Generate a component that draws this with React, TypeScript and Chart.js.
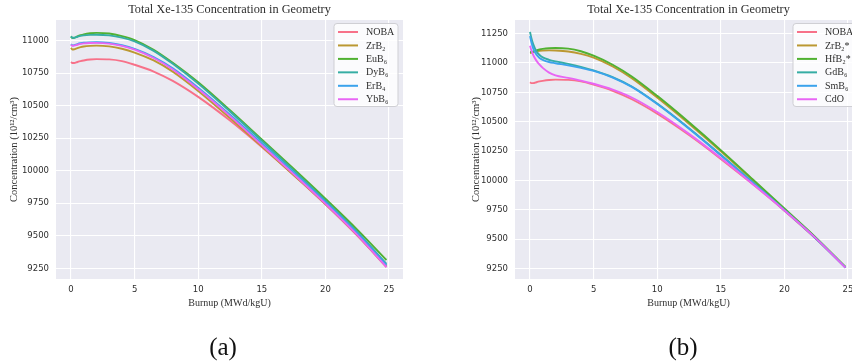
import React, { useEffect, useRef } from 'react';
import { Chart, registerables } from 'chart.js';
Chart.register(...registerables);

// ---------- data ----------
const burnup = [0, 0.1, 0.25, 0.5, 0.75, 1, 1.5, 2, 3, 4, 5, 6.5, 8, 10, 12.5, 15, 17.5, 20, 22.5, 24.8];
const xTicks = [0, 5, 10, 15, 20, 25];
const yTicksA = [9250, 9500, 9750, 10000, 10250, 10500, 10750, 11000];
const yTicksB = [9250, 9500, 9750, 10000, 10250, 10500, 10750, 11000, 11250];

const noba = [10836, 10828, 10828, 10836, 10843, 10848, 10855, 10858, 10856, 10843, 10815, 10763, 10691, 10568, 10386, 10183, 9968, 9742, 9501, 9260];

// panel (a)
const zrb2 = [10944, 10932, 10934, 10943, 10950, 10955, 10960, 10962, 10956, 10938, 10909, 10848, 10762, 10614, 10405, 10188, 9968, 9745, 9508, 9263];
const eub6 = [11033, 11020, 11022, 11033, 11042, 11049, 11057, 11060, 11055, 11035, 11005, 10930, 10830, 10680, 10465, 10240, 10015, 9785, 9548, 9314];
const dyb6 = [11033, 11022, 11022, 11030, 11037, 11041, 11045, 11046, 11041, 11024, 10995, 10922, 10822, 10670, 10455, 10230, 10003, 9770, 9530, 9284];
const erb4 = [10974, 10964, 10966, 10974, 10980, 10984, 10987, 10988, 10982, 10965, 10937, 10874, 10787, 10638, 10430, 10210, 9988, 9760, 9520, 9274];
const ybb6 = [10969, 10960, 10962, 10969, 10975, 10979, 10982, 10983, 10977, 10960, 10931, 10867, 10779, 10628, 10420, 10197, 9974, 9747, 9507, 9260];

// panel (b)
const zrb2s = [11085, 11086, 11092, 11099, 11103, 11105, 11107, 11106, 11098, 11078, 11045, 10970, 10870, 10705, 10482, 10248, 10003, 9755, 9506, 9260];
const hfb2s = [11094, 11092, 11098, 11108, 11115, 11120, 11126, 11128, 11122, 11100, 11062, 10985, 10885, 10720, 10495, 10258, 10010, 9760, 9510, 9262];
const gdb6 = [11265, 11215, 11160, 11100, 11068, 11048, 11027, 11013, 10992, 10967, 10937, 10880, 10800, 10655, 10445, 10218, 9985, 9748, 9503, 9258];
const smb6 = [11230, 11180, 11125, 11072, 11043, 11027, 11008, 10998, 10980, 10958, 10932, 10876, 10796, 10650, 10440, 10214, 9982, 9746, 9502, 9258];
const cdo = [11146, 11110, 11068, 11020, 10985, 10958, 10918, 10894, 10873, 10850, 10823, 10773, 10706, 10582, 10396, 10190, 9970, 9744, 9504, 9257];

const labelsA = ['NOBA', 'ZrB₂', 'EuB₆', 'DyB₆', 'ErB₄', 'YbB₆'];
const labelsB = ['NOBA', 'ZrB₂*', 'HfB₂*', 'GdB₆', 'SmB₆', 'CdO'];
const seriesA = [noba, zrb2, eub6, dyb6, erb4, ybb6];
const seriesB = [noba, zrb2s, hfb2s, gdb6, smb6, cdo];
const colors = ['#f77189', '#bb9832', '#50b131', '#36ada4', '#3ba3ec', '#e866f4'];

const TITLE = 'Total Xe-135 Concentration in Geometry';
const XLABEL = 'Burnup (MWd/kgU)';
const YLABEL = 'Concentration (10¹²/cm³)';

const SERIF = "'Liberation Serif', 'DejaVu Serif', serif";
const SANS = "'DejaVu Sans', sans-serif";
const TEXT = '#2e2e2e';

function decorPlugin(labels: string[]) {
  return {
    id: 'decor',
    beforeDraw(chart: any) {
      const { ctx, chartArea: a } = chart;
      ctx.save();
      ctx.fillStyle = '#eaeaf2';
      ctx.fillRect(a.left, a.top, a.right - a.left, a.bottom - a.top);
      ctx.restore();
    },
    afterDraw(chart: any) {
      const { ctx, chartArea: a } = chart;
      ctx.save();
      ctx.font = `12.3px ${SERIF}`;
      ctx.fillStyle = TEXT;
      ctx.textAlign = 'center';
      ctx.textBaseline = 'middle';
      ctx.fillText(TITLE, (a.left + a.right) / 2, 9.5);

      const bw = 64, bh = 83;
      const bx = a.right - 5 - bw, by = a.top + 3.5;
      ctx.beginPath();
      const r = 3;
      ctx.moveTo(bx + r, by);
      ctx.lineTo(bx + bw - r, by);
      ctx.arcTo(bx + bw, by, bx + bw, by + r, r);
      ctx.lineTo(bx + bw, by + bh - r);
      ctx.arcTo(bx + bw, by + bh, bx + bw - r, by + bh, r);
      ctx.lineTo(bx + r, by + bh);
      ctx.arcTo(bx, by + bh, bx, by + bh - r, r);
      ctx.lineTo(bx, by + r);
      ctx.arcTo(bx, by, bx + r, by, r);
      ctx.closePath();
      ctx.fillStyle = 'rgba(255,255,255,0.8)';
      ctx.fill();
      ctx.strokeStyle = '#cfcfd4';
      ctx.lineWidth = 1;
      ctx.stroke();

      ctx.font = `10px ${SERIF}`;
      ctx.textAlign = 'left';
      labels.forEach((lab, i) => {
        const y = by + 8.5 + i * 13.45;
        ctx.strokeStyle = colors[i];
        ctx.lineWidth = 2;
        ctx.beginPath();
        ctx.moveTo(bx + 4, y);
        ctx.lineTo(bx + 24, y);
        ctx.stroke();
        ctx.fillStyle = TEXT;
        ctx.fillText(lab, bx + 32, y + 0.5);
      });
      ctx.restore();
    },
  };
}

type PanelProps = {
  left: number;
  width: number;
  yAxisWidth: number;
  padRight: number;
  yTitlePad: number;
  yMin: number;
  yMax: number;
  yTicks: number[];
  series: number[][];
  labels: string[];
};

function Panel(p: PanelProps) {
  const ref = useRef<HTMLCanvasElement | null>(null);
  useEffect(() => {
    if (!ref.current) return;
    const datasets = p.series.map((arr, i) => ({
      label: p.labels[i],
      data: burnup.map((x, j) => ({ x, y: arr[j] })),
      borderColor: colors[i],
      backgroundColor: colors[i],
      borderWidth: 1.9,
      pointRadius: 0,
      fill: false,
      cubicInterpolationMode: 'monotone' as const,
      order: p.series.length - i,
    }));
    const chart = new Chart(ref.current, {
      type: 'line',
      data: { datasets },
      options: {
        animation: false,
        responsive: false,
        devicePixelRatio: 1,
        layout: { padding: { left: 0, right: p.padRight, top: 20, bottom: 44 } },
        plugins: { legend: { display: false }, title: { display: false }, tooltip: { enabled: false } },
        scales: {
          x: {
            type: 'linear',
            min: -1.18,
            max: 26.1,
            afterBuildTicks: (s: any) => { s.ticks = xTicks.map((v) => ({ value: v })); },
            afterFit: (s: any) => { s.height = 41; },
            grid: { color: '#ffffff', lineWidth: 1.1, drawTicks: false },
            border: { display: false },
            ticks: { font: { family: SANS, size: 8.5 }, color: TEXT, padding: 6, maxRotation: 0, callback: (v: any) => String(v) },
            title: { display: true, text: XLABEL, font: { family: SERIF, size: 10 }, color: TEXT, padding: { top: 0, bottom: 11 } },
          },
          y: {
            type: 'linear',
            min: p.yMin,
            max: p.yMax,
            afterBuildTicks: (s: any) => { s.ticks = p.yTicks.map((v) => ({ value: v })); },
            afterFit: (s: any) => { s.width = p.yAxisWidth; },
            grid: { color: '#ffffff', lineWidth: 1.1, drawTicks: false },
            border: { display: false },
            ticks: { font: { family: SANS, size: 8.5 }, color: TEXT, padding: 7, callback: (v: any) => String(v) },
            title: { display: true, text: YLABEL, font: { family: SERIF, size: 10.5 }, color: TEXT, padding: { top: p.yTitlePad, bottom: 0 } },
          },
        },
      },
      plugins: [decorPlugin(p.labels)],
    });
    return () => chart.destroy();
  }, []);
  return (
    <canvas
      ref={ref}
      width={p.width}
      height={364}
      style={{ position: 'absolute', left: p.left, top: 0, width: p.width, height: 364 }}
    />
  );
}

const captionStyle = (cx: number): React.CSSProperties => ({
  position: 'absolute',
  left: cx - 50,
  width: 100,
  top: 333,
  height: 28,
  lineHeight: '28px',
  textAlign: 'center',
  fontFamily: SERIF,
  fontSize: 25,
  color: '#111',
});

export default function App() {
  return (
    <div style={{ position: 'absolute', left: 0, top: 0, width: 852, height: 364, overflow: 'hidden', background: '#fff' }}>
      <Panel left={0} width={420} yAxisWidth={56} padRight={17} yTitlePad={7.7}
        yMin={9168} yMax={11159} yTicks={yTicksA} series={seriesA} labels={labelsA} />
      <Panel left={430} width={440} yAxisWidth={85} padRight={8} yTitlePad={40.4}
        yMin={9160} yMax={11366} yTicks={yTicksB} series={seriesB} labels={labelsB} />
      <div style={captionStyle(223)}>(a)</div>
      <div style={captionStyle(683)}>(b)</div>
    </div>
  );
}
